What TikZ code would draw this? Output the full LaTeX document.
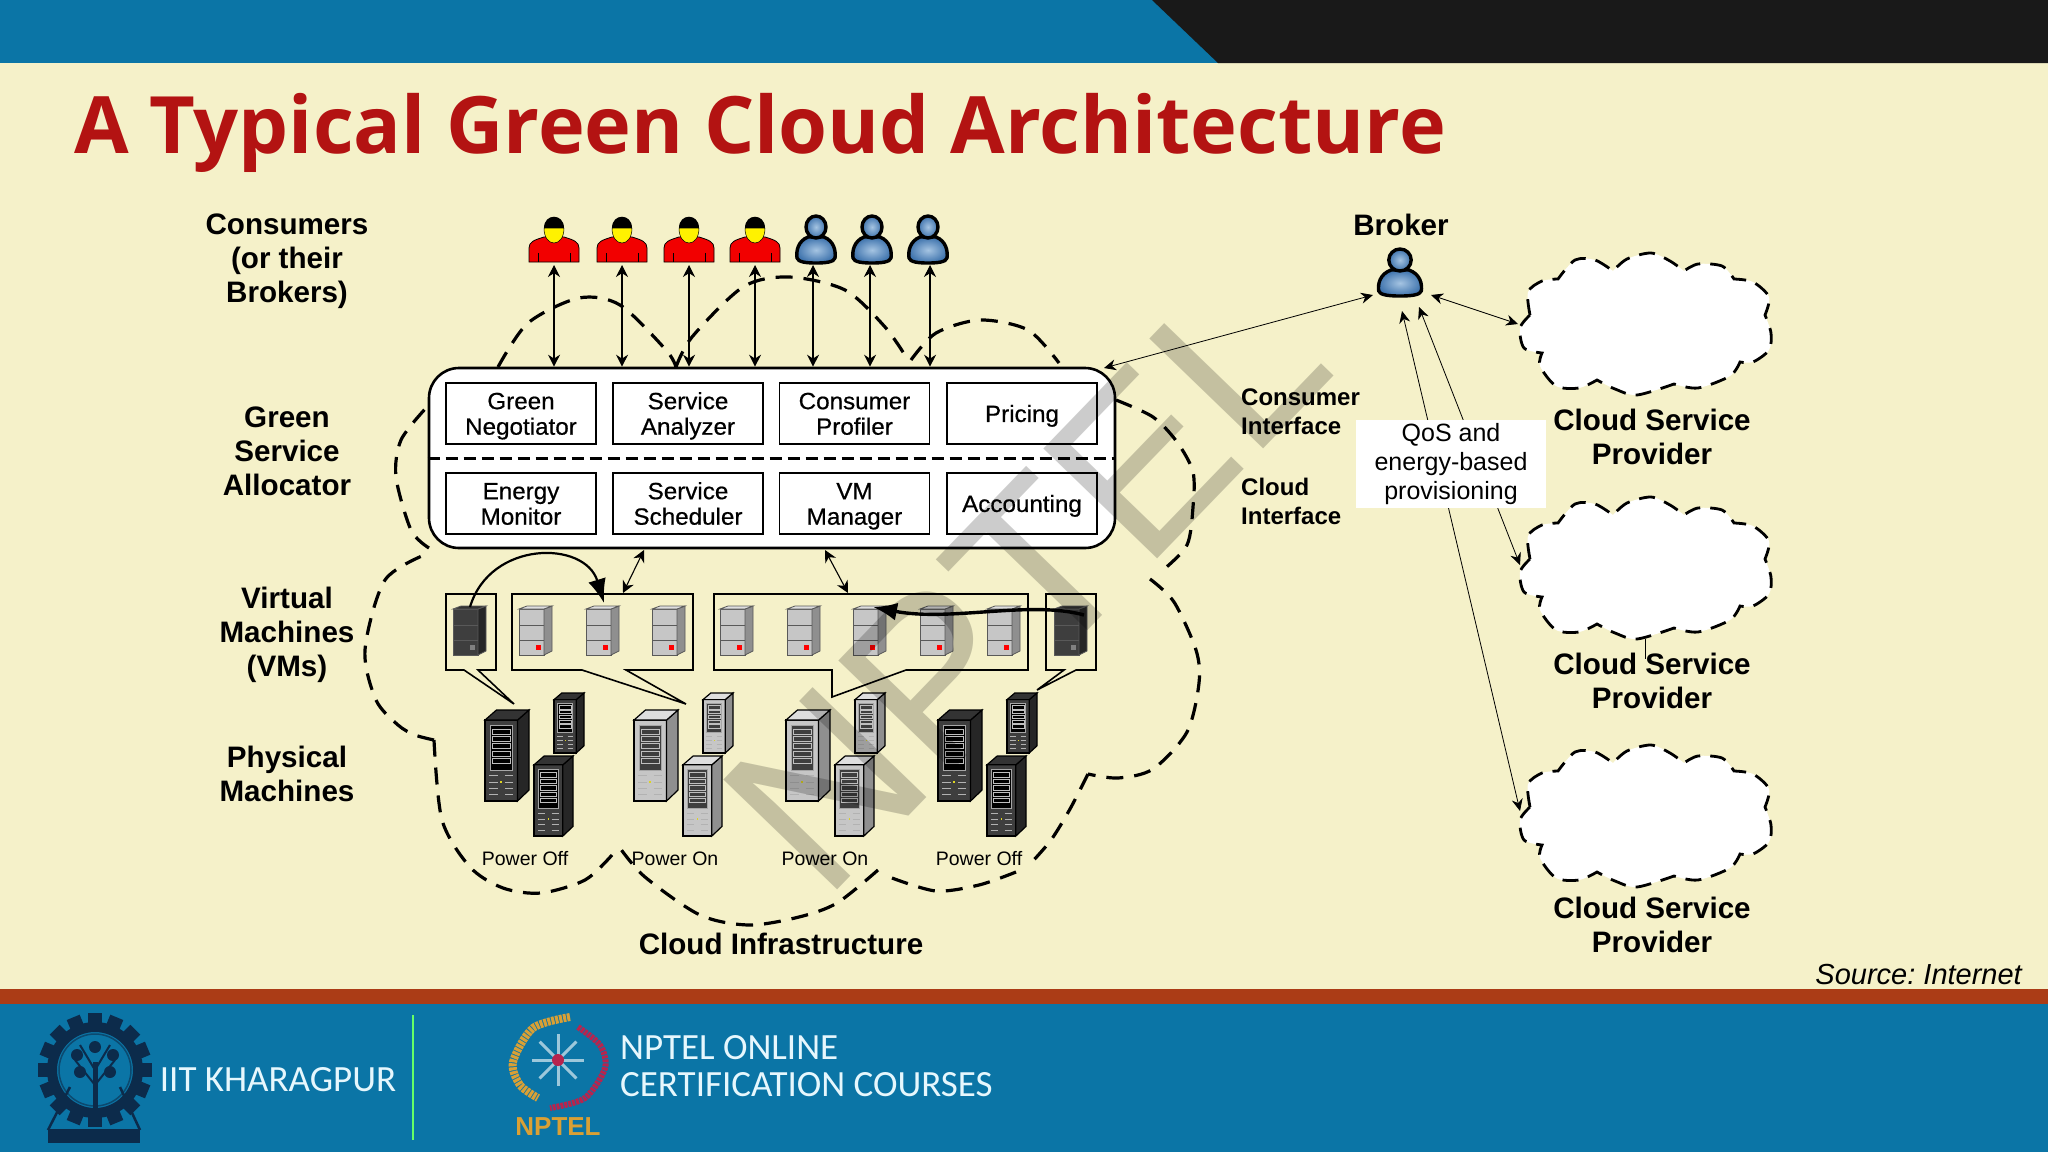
\documentclass[tikz,border=0pt]{standalone}
\usepackage{fontspec}
\setmainfont{Liberation Sans}
\newfontfamily\titlefont{Open Sans}
\newfontfamily\logofont{Carlito}
\newfontfamily\boxfont{Liberation Sans}[FakeBold=.6,FakeStretch=1.03]
\usetikzlibrary{arrows.meta}
\definecolor{cream}{HTML}{F5F1C9}
\definecolor{bandblue}{HTML}{0B75A6}
\definecolor{bandred}{HTML}{AB3C16}
\definecolor{titlered}{HTML}{B31312}
\definecolor{logonavy}{HTML}{0C2B4B}
\definecolor{logogold}{HTML}{D9A035}
\definecolor{logocrimson}{HTML}{B8244E}
\definecolor{onface}{HTML}{C6C6C6}
\definecolor{onside}{HTML}{8F8F8F}
\definecolor{ontop}{HTML}{DEDEDE}
\definecolor{offface}{HTML}{3E3E3E}
\definecolor{offside}{HTML}{262626}
\definecolor{offtop}{HTML}{333333}
\definecolor{usercore}{HTML}{A5C4E2}
\definecolor{useredge}{HTML}{3D72AC}

\begin{document}
\begin{tikzpicture}[x=1pt,y=-1pt,
  every node/.style = {inner sep=0pt, align=center},
  lbl/.style = {font=\fontsize{29.6}{34}\selectfont\bfseries},
  ifacelbl/.style = {font=\fontsize{24}{29}\selectfont\bfseries, align=left},
  pwrlbl/.style = {font=\fontsize{19.5}{24}\selectfont},
  modbox/.style = {draw, line width=1.6pt, fill=white, minimum width=150pt, minimum height=61pt,
    font=\fontsize{23.5}{25.5}\selectfont\boxfont},
  panel/.style = {draw, line width=2.6pt, fill=white, rounded corners=30pt,
    minimum width=686pt, minimum height=180pt},
  cloudline/.style = {line width=3.2pt, dash pattern=on 17pt off 11pt},
  biarrow/.style = {line width=1.1pt, {Stealth[length=12pt,width=12pt]}-{Stealth[length=12pt,width=12pt]}},
  thinarrow/.style = {line width=.8pt, {Stealth[length=12pt,width=11pt]}-{Stealth[length=12pt,width=11pt]}},
  migrate/.style = {-{Latex[length=24pt,width=18pt]}},
  callout/.style = {draw, line width=1.6pt},
  pics/redperson/.style = {code={
    \filldraw[fill=red!95!black, line width=.8pt] (-25,0) -- (-25,-14) .. controls (-25,-20) and (-20,-22) .. (-10,-25)
      -- (10,-25) .. controls (20,-22) and (25,-20) .. (25,-14) -- (25,0) -- cycle;
    \draw[line width=.7pt] (-16,0) -- (-16,-9) (16,0) -- (16,-9);
    \filldraw[fill=yellow, line width=.5pt] (-10,-34) .. controls (-10,-24) and (-5,-19) .. (0,-19)
      .. controls (5,-19) and (10,-24) .. (10,-34) -- cycle;
    \fill (-10,-34) .. controls (-10,-49) and (10,-49) .. (10,-34) -- cycle;
  }},
  pics/blueperson/.style = {code={
    \draw[line width=3.4pt, inner color=usercore, outer color=useredge]
      (-8,-26) .. controls (-18,-22) and (-20,-12) .. (-19,-5) .. controls (-18,-1) and (-10,0) .. (0,0)
      .. controls (10,0) and (18,-1) .. (19,-5) .. controls (20,-12) and (18,-22) .. (8,-26) -- cycle;
    \draw[line width=3.4pt, inner color=usercore, outer color=useredge]
      (0,-36) ellipse (10 and 11);
  }},
  pics/vmtower/.style n args={4}{code={
    \filldraw[fill=#1, draw=black!65, line width=.8pt] (0,3) -- (25,3) -- (25,49) -- (0,49) -- cycle;
    \filldraw[fill=#2, draw=black!65, line width=.8pt] (25,3) -- (33,0) -- (33,45) -- (25,49) -- cycle;
    \filldraw[fill=#3, draw=black!65, line width=.8pt] (0,3) -- (8,0) -- (33,0) -- (25,3) -- cycle;
    \draw[black!65, line width=.8pt] (0,19) -- (25,19) (0,34) -- (25,34);
    \fill[#4] (17,39) rectangle (22,44);
  }},
  pics/rack/.style n args={4}{code={
    \filldraw[fill=#1, line width=1.2pt] (0,.11) -- (.74,.11) -- (.74,1) -- (0,1) -- cycle;
    \filldraw[fill=#2, line width=1.2pt] (.74,.11) -- (1,0) -- (1,.88) -- (.74,1) -- cycle;
    \filldraw[fill=#3, line width=1.2pt] (0,.11) -- (.26,0) -- (1,0) -- (.74,.11) -- cycle;
    \filldraw[fill=#4, draw=gray!70, line width=1pt] (.12,.17) rectangle (.62,.66);
    \foreach \y in {.21,.29,.37,.45,.53}
      \draw[gray!50!white, line width=.8pt] (.17,\y) rectangle (.57,\y+.055);
    \foreach \y in {.72,.79,.86,.93}
      \draw[gray!60, line width=.8pt] (.1,\y) -- (.29,\y) (.45,\y) -- (.64,\y);
    \fill[yellow!85!black] (.35,.78) rectangle (.39,.8);
  }},
  pics/provider/.style = {code={
    \filldraw[fill=white, line width=2.8pt, dash pattern=on 16pt off 10pt]
      plot[smooth] coordinates {(-115,-10) (-117,-33) (-103,-44) (-87,-46)}
      -- plot[smooth] coordinates {(-87,-46) (-70,-65) (-50,-65) (-32,-54)}
      -- plot[smooth] coordinates {(-32,-54) (-18,-66) (6,-72) (25,-64) (39,-54)}
      -- plot[smooth] coordinates {(39,-54) (53,-61) (77,-59) (89,-46)}
      -- plot[smooth] coordinates {(89,-46) (108,-43) (124,-28) (120,-10)}
      -- plot[smooth] coordinates {(120,-10) (126,8) (124,25) (108,37) (95,37)}
      -- plot[smooth] coordinates {(95,37) (85,51) (53,63) (29,59)}
      -- plot[smooth] coordinates {(29,59) (-8,70) (-30,64) (-48,55)}
      -- plot[smooth] coordinates {(-48,55) (-66,63) (-89,61) (-105,41) (-103,28)}
      -- plot[smooth] coordinates {(-103,28) (-121,23) (-125,3) (-115,-10)} -- cycle;
  }}]
  \useasboundingbox (0,0) rectangle (2048,1152);
  \fill[cream] (0,0) rectangle (2048,1152);
  \fill[bandblue] (0,0) rectangle (2048,63);
  \fill[black!90] (1152,0) -- (2048,0) -- (2048,63) -- (1218,63) -- cycle;
  \fill[bandblue] (0,1004) rectangle (2048,1152);
  \fill[bandred] (0,989) rectangle (2048,1004);
  \node[anchor=base west, text=titlered, font=\fontsize{79.2}{90}\selectfont\titlefont\bfseries] (title) at (74,153)
    {A Typical Green Cloud Architecture};

  \draw[cloudline] plot[smooth] coordinates {(498,367) (528,323) (579,298) (620,305) (666,350) (676,367)};
  \draw[cloudline] plot[smooth] coordinates {(676,367) (692,337) (743,287) (789,277) (845,290) (885,327) (908,360)};
  \draw[cloudline] plot[smooth] coordinates {(911,360) (936,333) (980,320) (1028,330) (1059,363)};
  \draw[cloudline] plot[smooth] coordinates {(1116,400) (1153,417) (1177,442) (1193,472) (1193,507) (1187,545) (1163,570)};
  \draw[cloudline] plot[smooth] coordinates {(1150,579) (1174,602) (1196,650) (1199,683) (1187,732) (1153,769) (1118,778) (1088,774)};
  \draw[cloudline] plot[smooth] coordinates {(1088,774) (1070,809) (1051,840) (1031,863)};
  \draw[cloudline] plot[smooth] coordinates {(1016,872) (979,885) (936,891) (892,878)};
  \draw[cloudline] plot[smooth] coordinates {(878,870) (837,903) (799,917) (749,925) (700,915) (645,877) (620,848)};
  \draw[cloudline] plot[smooth] coordinates {(612,855) (585,880) (541,893) (503,888) (470,867) (442,820) (434,740)};
  \draw[cloudline] plot[smooth] coordinates {(434,740) (415,735) (398,725) (376,700) (365,650) (385,580) (429,553)};
  \draw[cloudline] plot[smooth] coordinates {(429,548) (411,530) (396,477) (401,440) (426,408)};

  \node[panel] (gsa) at (772,458) {};
  \draw[line width=3pt, dash pattern=on 12pt off 6pt] (gsa.west) -- (gsa.east);
  \foreach \x/\y/\nm/\txt in {521/413.5/negotiator/Green\\Negotiator, 688/413.5/analyzer/Service\\Analyzer,
    854.5/413.5/profiler/Consumer\\Profiler, 1022/413.5/pricing/Pricing,
    521/503.5/monitor/Energy\\Monitor, 688/503.5/scheduler/Service\\Scheduler,
    854.5/503.5/manager/VM\\Manager, 1022/503.5/accounting/Accounting}
    \node[modbox, text depth=1pt] (\nm) at (\x,\y) {\strut\txt\strut};

  \foreach \x in {554,622,689,755}
    \pic at (\x,262) {redperson};
  \foreach \x in {816,872,928}
    \pic at (\x,263) {blueperson};
  \foreach \i/\x in {1/554,2/622,3/689,4/755,5/813,6/870,7/930} {
    \coordinate (user\i) at (\x,265);
    \draw[biarrow] (user\i) -- (user\i |- gsa.north);
  }

  \draw[callout] (446,594) -- (496,594) -- (496,670) -- (478,670) -- (514,704) -- (464,670) -- (446,670) -- cycle;
  \draw[callout] (512,594) -- (693,594) -- (693,670) -- (626,670) -- (686,704) -- (582,670) -- (512,670) -- cycle;
  \draw[callout] (714,594) -- (1028,594) -- (1028,670) -- (906,670) -- (832,697) -- (832,670) -- (714,670) -- cycle;
  \draw[callout] (1046,594) -- (1096,594) -- (1096,670) -- (1076,670) -- (1037,690) -- (1064,670) -- (1046,670) -- cycle;

  \foreach \x in {519,586,652,720,787,853,920,987}
    \pic at (\x,606) {vmtower={onface}{onside}{ontop}{red}};
  \pic at (453,606) {vmtower={offface}{offside}{offtop}{gray}};
  \pic at (1054,606) {vmtower={offface}{offside}{offtop}{gray}};

  \foreach \dx/\fr/\sd/\tp/\by in {0/offface/offside/offtop/black, 149/onface/onside/ontop/offface,
    301/onface/onside/ontop/offface, 453/offface/offside/offtop/black} {
    \pic[xscale=30,yscale=60] at (554+\dx,693) {rack={\fr}{\sd}{\tp}{\by}};
    \pic[xscale=44,yscale=91] at (485+\dx,710) {rack={\fr}{\sd}{\tp}{\by}};
    \pic[xscale=39,yscale=80] at (534+\dx,756) {rack={\fr}{\sd}{\tp}{\by}};
  }
  \foreach \x/\txt in {525/Power Off, 675/Power On, 825/Power On, 979/Power Off}
    \node[pwrlbl] at (\x,859) {\txt};

  \coordinate (sched) at (644,550);
  \coordinate (vmleft) at (623,593);
  \coordinate (mgr) at (825,550);
  \coordinate (vmright) at (848,593);
  \draw[biarrow] (sched) -- (vmleft);
  \draw[biarrow] (mgr) -- (vmright);
  \coordinate (offleft) at (470,607);
  \coordinate (vmtwo) at (604,603);
  \coordinate (offright) at (1084,615);
  \coordinate (vmsix) at (873,607);
  \draw[migrate, line width=2.2pt] (offleft) .. controls (490,540) and (585,540) .. (vmtwo);
  \draw[migrate, line width=3.4pt] (offright) .. controls (1030,600) and (950,622) .. (vmsix);

  \node[lbl] (consumers) at (287,261) {Consumers\\(or their\\Brokers)};
  \node[lbl] (allocator) at (287,451) {Green\\Service\\Allocator};
  \node[lbl] (vms) at (287,635) {Virtual\\Machines\\(VMs)};
  \node[lbl] (physical) at (287,774) {Physical\\Machines};
  \node[lbl] (infra) at (781,944) {Cloud Infrastructure};
  \node[lbl] (brokerlbl) at (1401,225) {Broker};
  \node[ifacelbl, anchor=west] (consiface) at (1241,412) {Consumer\\Interface};
  \node[ifacelbl, anchor=west] (cloudiface) at (1241,501) {Cloud\\Interface};

  \pic[xscale=1.12] at (1400,296) {blueperson};
  \foreach \y in {325,569,817}
    \pic at (1645,\y) {provider};
  \draw[line width=.8pt] (1645,639) -- (1645,659);
  \foreach \i/\y in {1/437,2/681,3/925}
    \node[lbl] (csp\i) at (1652,\y) {Cloud Service\\Provider};

  \coordinate (gsaport) at (1104,368);
  \coordinate (brokerW) at (1373,295);
  \coordinate (brokerE) at (1431,295);
  \coordinate (brokerS) at (1419,307);
  \coordinate (brokerT) at (1402,311);
  \coordinate (cspone) at (1518,324);
  \coordinate (csptwo) at (1520,565);
  \coordinate (cspthree) at (1520,811);
  \draw[thinarrow] (gsaport) -- (brokerW);
  \draw[thinarrow] (brokerE) -- (cspone);
  \draw[thinarrow] (brokerS) -- (csptwo);
  \draw[thinarrow] (brokerT) -- (cspthree);
  \node[fill=white, minimum width=190pt, minimum height=88pt, font=\fontsize{25}{29}\selectfont] (qos) at (1451,464)
    {QoS and\\energy-based\\provisioning};

  \node[anchor=base east, font=\fontsize{29}{34}\selectfont\itshape\frenchspacing] (source) at (2022,984) {Source: Internet};

  \foreach \a in {0,22.5,...,337.5}
    \fill[logonavy, rotate around={\a:(95,1070)}] (88,1013) rectangle (102,1028);
  \draw[logonavy, line width=10pt] (95,1070) circle (43);
  \draw[logonavy!60!bandblue, line width=1.5pt] (95,1070) circle (36);
  \draw[logonavy, line width=5pt] (95,1125) -- (95,1062);
  \draw[logonavy, line width=2pt] (95,1085) -- (75,1060) (95,1085) -- (115,1060) (95,1070) -- (80,1045) (95,1070) -- (110,1045);
  \foreach \x/\y in {95/1047,77/1055,113/1055,80/1072,110/1072}
    \fill[logonavy] (\x,\y) circle (6);
  \draw[logonavy, line width=2.5pt] (48,1130) -- (70,1087) (140,1130) -- (120,1087);
  \fill[logonavy] (48,1129) rectangle (140,1143);
  \node[text=white!90!cyan, font=\fontsize{37}{37}\selectfont\logofont] (iit) at (278,1080) {IIT KHARAGPUR};
  \draw[green!60!white, line width=2.5pt] (413,1015) -- (413,1140);

  \draw[logogold, line width=8pt, dash pattern=on 3pt off 1pt] plot[smooth] coordinates {(570,1017) (533,1028) (513,1062) (520,1085) (538,1098)};
  \draw[logocrimson, line width=6pt, dash pattern=on 3pt off 1pt] plot[smooth] coordinates {(578,1027) (600,1045) (605,1068) (585,1098) (550,1108)};
  \foreach \a in {0,45,...,315}
    \draw[white!60!bandblue, line width=3pt, rotate around={\a:(558,1060)}] (558,1060) -- (558,1034);
  \fill[logocrimson] (558,1060) circle (6);
  \node[text=logogold, font=\fontsize{26}{26}\selectfont\bfseries] (nptellogo) at (558,1127) {NPTEL};
  \node[anchor=west, align=left, text=white!90!cyan, font=\fontsize{37}{37}\selectfont\logofont] (courses) at (620,1066)
    {NPTEL ONLINE\\CERTIFICATION COURSES};

  \node[anchor=base, rotate=46, text=black, text opacity=.2, font=\fontsize{230}{230}\selectfont] (mark) at (1082,637) {NPTEL};
\end{tikzpicture}
\end{document}
